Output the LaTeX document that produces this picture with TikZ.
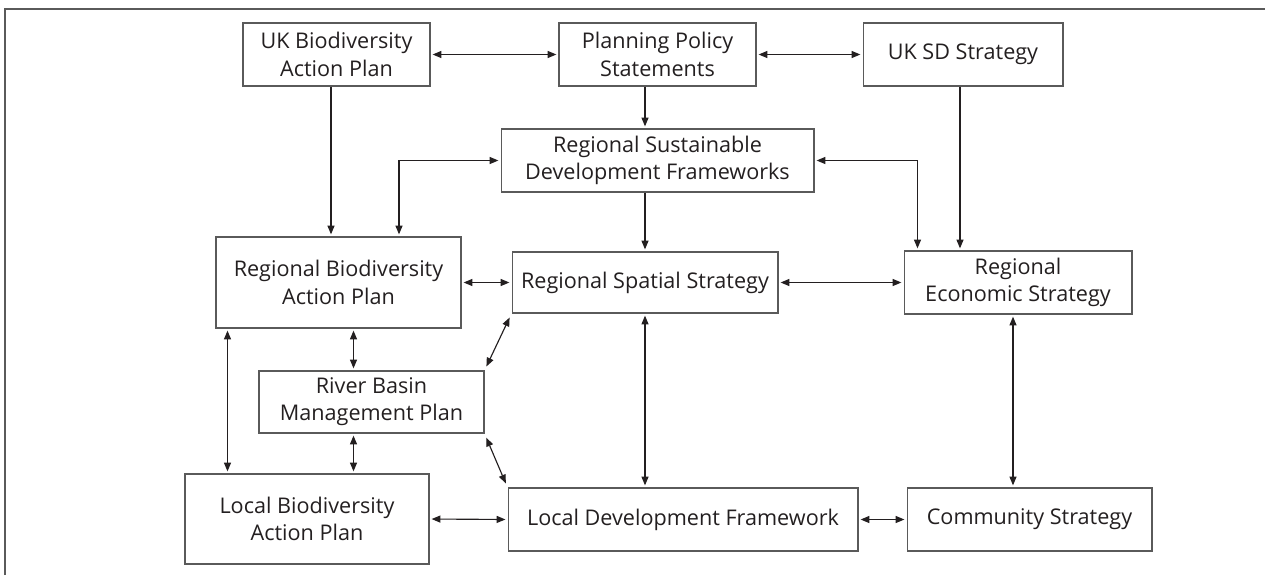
\documentclass[tikz,border=0pt]{standalone}
\usepackage{fontspec}
\setmainfont{Open Sans}
\usepackage{tikz, xcolor}
\usetikzlibrary{arrows.meta, calc}

\definecolor{inkgray}{HTML}{231F20}
\definecolor{boxgray}{HTML}{5A5A5A}

\begin{document}
\begin{tikzpicture}[x=0.02cm, y=-0.02cm,
    box/.style={draw=boxgray, line width=0.6pt, align=center, inner sep=0pt,
      text=inkgray, font=\fontsize{12.3}{15.5}\selectfont},
    arr/.style={line width=0.65pt, color=inkgray, -{Triangle[length=5pt, width=4pt]},
      shorten >=1.2pt},
    dbl/.style={arr, {Triangle[length=5pt, width=4pt]}-{Triangle[length=5pt, width=4pt]},
      shorten <=1.2pt}]
    \useasboundingbox (0, 0) rectangle (1265, 575);

    \draw [line width=1.1pt, color=boxgray] (5, 575) -- (5, 9) -- (1265, 9);

    \node [box, minimum width=3.74cm, minimum height=1.26cm] (ukbap) at (336.5, 54.5) {UK Biodiversity\\Action Plan};
    \node [box, minimum width=3.94cm, minimum height=1.26cm] (pps) at (657.5, 54.5) {Planning Policy\\Statements};
    \node [box, minimum width=4.00cm, minimum height=1.26cm] (uksd) at (963, 54.5) {UK SD Strategy};
    \node [box, minimum width=6.26cm, minimum height=1.26cm] (rsdf) at (657.5, 160.5) {Regional Sustainable\\Development Frameworks};
    \node [box, minimum width=4.90cm, minimum height=1.82cm] (rbap) at (338.5, 282.5) {Regional Biodiversity\\Action Plan};
    \node [box, minimum width=5.32cm, minimum height=1.22cm] (rss) at (645, 282.5) {Regional Spatial Strategy};
    \node [box, minimum width=4.56cm, minimum height=1.26cm] (res) at (1018, 282.5) {Regional\\Economic Strategy};
    \node [box, minimum width=4.50cm, minimum height=1.24cm] (rbmp) at (371.5, 402) {River Basin\\Management Plan};
    \node [box, minimum width=4.88cm, minimum height=1.80cm] (lbap) at (307, 519) {Local Biodiversity\\Action Plan};
    \node [box, minimum width=7.00cm, minimum height=1.26cm] (ldf) at (683, 519.5) {Local Development Framework};
    \node [box, minimum width=4.90cm, minimum height=1.26cm] (cs) at (1029.5, 519.5) {Community Strategy};

    \coordinate (ukbapout) at ($(ukbap.south)+(-5.5,0)$);
    \coordinate (uksdout) at ($(uksd.south)+(-3,0)$);
    \coordinate (rbapin) at ($(rbap.north)+(60.5,0)$);
    \coordinate (resin) at ($(res.north west)+(14,0)$);
    \coordinate (rbapmid) at ($(rbap.south)+(15,0)$);
    \coordinate (rbapleft) at ($(rbap.south west)+(12,0)$);
    \coordinate (resout) at ($(res.south)+(-5,0)$);

    % national level
    \draw [dbl] (ukbap.east) -- (pps.west);
    \draw [dbl] (pps.east) -- (uksd.west);
    \draw [arr] (pps.south -| rss) -- (rsdf.north -| rss);
    \draw [arr] (ukbapout) -- (ukbapout |- rbap.north);
    \draw [arr] (uksdout) -- (uksdout |- res.north);
    \draw [dbl] (rsdf.west) -| (rbapin);
    \draw [dbl] (rsdf.east) -| (resin);

    % regional level
    \draw [arr] (rsdf.south -| rss) -- (rss.north);
    \draw [dbl] (rbap.east) -- (rss.west);
    \draw [dbl] (rss.east) -- (res.west);
    \draw [dbl] (rbapmid) -- (rbapmid |- rbmp.north);
    \draw [dbl, shorten <=2.5pt, shorten >=2.5pt] (rbmp.north east) -- (rss.south west);
    \draw [dbl] (rbapleft) -- (rbapleft |- lbap.north);
    \draw [dbl] (rbapmid |- rbmp.south) -- (rbapmid |- lbap.north);
    \draw [dbl, shorten <=2.5pt, shorten >=2.5pt] (rbmp.south east) -- (ldf.north west);
    \draw [dbl] (rss.south) -- (rss.south |- ldf.north);
    \draw [dbl] (resout) -- (resout |- cs.north);

    % local level
    \draw [dbl] (lbap.east) -- (ldf.west);
    \draw [dbl] (ldf.east) -- (cs.west);

  \end{tikzpicture}
\end{document}
